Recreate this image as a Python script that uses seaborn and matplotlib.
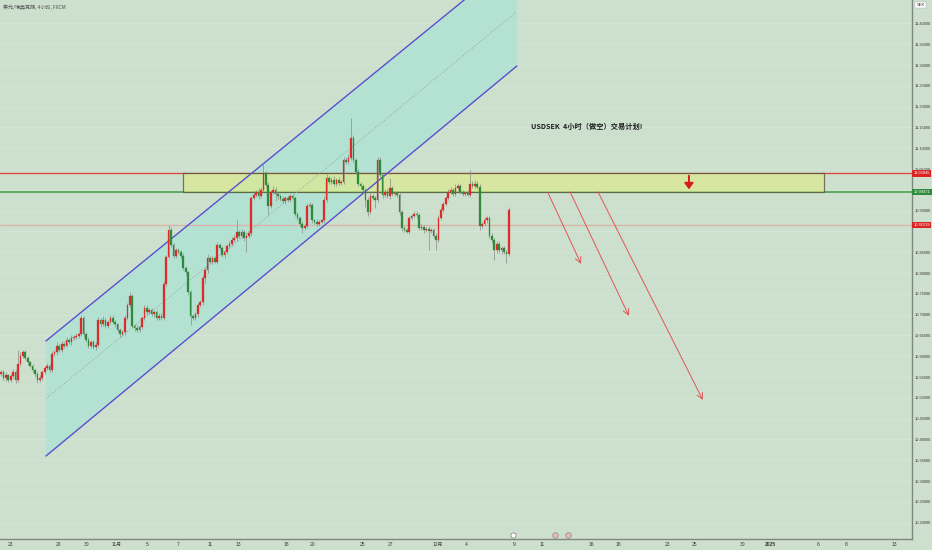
import numpy as np
import pandas as pd
import matplotlib
matplotlib.use("Agg")
import matplotlib.pyplot as plt
import seaborn as sns
from matplotlib.patches import Rectangle, Polygon

# ---------------- data ----------------
open0 = 10.558
closes = [
    10.562, 10.548, 10.555, 10.543, 10.552, 10.562, 10.543, 10.581, 10.601, 10.610,
    10.596, 10.586, 10.577, 10.567, 10.557, 10.543, 10.548, 10.562, 10.572, 10.577,
    10.567, 10.605, 10.610, 10.625, 10.615, 10.629, 10.625, 10.639, 10.634, 10.644,
    10.646, 10.649, 10.653, 10.692, 10.653, 10.639, 10.625, 10.634, 10.622, 10.627,
    10.687, 10.677, 10.687, 10.673, 10.682, 10.692, 10.682, 10.677, 10.663, 10.653,
    10.658, 10.692, 10.723, 10.745, 10.673, 10.668, 10.663, 10.670, 10.692, 10.716,
    10.706, 10.711, 10.701, 10.706, 10.692, 10.697, 10.692, 10.774, 10.839, 10.903,
    10.867, 10.841, 10.855, 10.851, 10.841, 10.812, 10.802, 10.754, 10.697, 10.692,
    10.701, 10.723, 10.730, 10.788, 10.807, 10.836, 10.827, 10.836, 10.827, 10.867,
    10.860, 10.843, 10.851, 10.865, 10.870, 10.879, 10.884, 10.899, 10.889, 10.899,
    10.884, 10.889, 10.896, 10.980, 10.988, 10.995, 10.985, 11.000, 11.040, 11.012,
    10.961, 10.995, 11.000, 10.990, 10.985, 10.978, 10.973, 10.980, 10.976, 10.985,
    10.980, 10.942, 10.932, 10.918, 10.908, 10.913, 10.961, 10.964, 10.927, 10.923,
    10.918, 10.923, 10.927, 10.976, 11.028, 11.019, 11.024, 11.014, 11.024, 11.016,
    11.019, 11.072, 11.067, 11.077, 11.125, 11.072, 11.043, 11.014, 11.009, 11.000,
    10.976, 10.947, 10.985, 10.980, 10.976, 11.072, 11.036, 10.988, 10.995, 10.985,
    11.004, 10.990, 10.992, 10.988, 10.947, 10.908, 10.903, 10.899, 10.932, 10.937,
    10.942, 10.939, 10.908, 10.911, 10.903, 10.906, 10.901, 10.903, 10.889, 10.879,
    10.932, 10.952, 10.966, 10.980, 10.995, 11.000, 10.990, 11.004, 11.009, 10.995,
    10.990, 10.992, 10.988, 11.014, 11.009, 11.014, 11.007, 10.913, 10.918, 10.927,
    10.932, 10.889, 10.879, 10.855, 10.870, 10.855, 10.860, 10.851, 10.846, 10.952,
]
# upper / lower wick lengths in units of 0.001
upper_wick = [
    5, 4, 6, 3, 5, 8, 4, 34, 8, 6,
    5, 4, 3, 4, 3, 5, 6, 4, 5, 6,
    4, 8, 6, 10, 5, 8, 6, 7, 5, 6,
    4, 6, 5, 7, 4, 5, 6, 4, 5, 6,
    8, 5, 10, 6, 5, 8, 6, 5, 4, 6,
    5, 8, 6, 10, 4, 5, 6, 4, 5, 8,
    6, 5, 6, 4, 5, 6, 7, 6, 5, 12,
    8, 5, 6, 5, 4, 6, 5, 4, 6, 5,
    6, 5, 6, 8, 7, 10, 6, 5, 6, 8,
    6, 5, 4, 5, 6, 8, 7, 29, 5, 6,
    5, 6, 4, 6, 8, 5, 10, 6, 24, 5,
    6, 5, 8, 6, 5, 4, 6, 5, 4, 6,
    5, 6, 4, 5, 6, 5, 8, 6, 5, 4,
    6, 5, 4, 8, 10, 5, 6, 8, 5, 6,
    5, 8, 6, 10, 48, 6, 5, 6, 5, 6,
    5, 6, 10, 6, 5, 7, 6, 5, 8, 6,
    24, 6, 5, 6, 5, 4, 6, 5, 6, 5,
    6, 8, 5, 6, 5, 4, 6, 5, 4, 6,
    8, 6, 5, 6, 8, 6, 5, 10, 8, 6,
    5, 6, 8, 34, 8, 10, 6, 6, 5, 8,
    6, 5, 6, 5, 8, 6, 5, 6, 5, 7,
]
lower_wick = [
    6, 5, 8, 4, 6, 5, 7, 4, 5, 6,
    5, 6, 4, 5, 6, 7, 5, 6, 4, 5,
    6, 4, 5, 6, 4, 5, 6, 4, 5, 6,
    5, 4, 6, 4, 8, 6, 5, 6, 4, 8,
    5, 6, 4, 5, 6, 4, 5, 6, 5, 6,
    4, 6, 5, 4, 6, 8, 5, 6, 4, 5,
    6, 5, 4, 6, 5, 4, 6, 5, 6, 4,
    5, 6, 4, 5, 6, 5, 6, 8, 22, 6,
    5, 6, 4, 8, 12, 6, 5, 6, 4, 6,
    5, 4, 6, 5, 4, 6, 5, 6, 4, 5,
    6, 34, 5, 6, 4, 5, 6, 4, 5, 6,
    22, 5, 6, 18, 6, 5, 4, 6, 5, 6,
    4, 6, 5, 6, 12, 5, 6, 4, 6, 5,
    6, 5, 4, 6, 5, 6, 4, 5, 6, 4,
    5, 6, 4, 5, 6, 5, 6, 4, 6, 5,
    18, 10, 6, 5, 20, 6, 5, 8, 6, 5,
    6, 5, 4, 6, 8, 6, 5, 4, 6, 5,
    4, 6, 5, 4, 6, 5, 46, 5, 6, 24,
    5, 4, 6, 5, 4, 6, 5, 6, 4, 5,
    6, 5, 4, 6, 5, 4, 6, 10, 6, 5,
    6, 5, 6, 24, 8, 6, 10, 5, 22, 6,
]

date_labels = ["23", "28", "30", "11月", "5", "7", "11", "13", "18", "20", "25", "27",
               "12月", "4", "9", "11", "16", "18", "23", "25", "30", "2025", "6", "8", "13"]
date_bar_pos = [3.7, 23.5, 35.4, 47.7, 60.1, 72.8, 86.0, 97.5, 117.3, 128.4, 148.6, 160.1,
                179.8, 191.4, 211.1, 222.6, 242.8, 253.9, 274.1, 285.2, 305.3, 316.5,
                336.2, 347.7, 367.5]

price_ticks = [round(10.20 + 0.05 * k, 2) for k in range(25)]
hidden_ticks = [11.00, 10.90]   # covered by the price tags in the reference

resistance_top = 11.03945
resistance_bottom = 10.99471
mark_level = 10.91539

# channel (bar index, price)
channel_x = [18.5, 212.3]
channel_upper = [10.6366, 11.5596]
channel_lower = [10.3601, 11.2976]
channel_mid = [10.4983, 11.4286]

zone_x = [74.9, 338.7]

# planned move arrows (start bar, start price, end bar, end price)
arrow_paths = [
    (225.0, 10.994, 238.7, 10.822),
    (234.2, 10.995, 258.4, 10.697),
    (245.7, 10.995, 288.8, 10.495),
]

title_text = "USDSEK  4小时（做空）交易计划!"
header_text = "美元/瑞典克朗, 4小时, FXCM"

# ---------------- style ----------------
BG = "#cde0ce"
sns.set_theme(style="white")
plt.rcParams["font.family"] = ["Noto Sans CJK SC", "DejaVu Sans"]
plt.rcParams["axes.unicode_minus"] = False
NUMFONT = ["Liberation Sans", "DejaVu Sans"]
CJK_NUM = ["Liberation Sans", "Noto Sans CJK SC", "DejaVu Sans"]

UP = "#dd2a2a"
DOWN = "#2f8a3c"
WICK = "#868c87"

n = len(closes)
opens = [open0] + closes[:-1]
highs = [max(o, c) + u * 0.001 for o, c, u in zip(opens, closes, upper_wick)]
lows = [min(o, c) - d * 0.001 for o, c, d in zip(opens, closes, lower_wick)]
df = pd.DataFrame({"bar": np.arange(n), "open": opens, "high": highs,
                   "low": lows, "close": closes})
df["up"] = df["close"] >= df["open"]

W, H = 932, 550
fig = plt.figure(figsize=(W / 100, H / 100), dpi=100, facecolor=BG)
ax = fig.add_axes([0, 11 / H, 912 / W, 539 / H])
ax.set_facecolor(BG)

ymin, ymax = 10.1606, 11.45625
xmin, xmax = -0.41, 374.9
ax.set_xlim(xmin, xmax)
ax.set_ylim(ymin, ymax)

# grid lines
for p in price_ticks:
    ax.axhline(p, color="#d5e6d6", lw=0.7, zorder=0)

# channel fill
poly = Polygon([(channel_x[0], channel_lower[0]), (channel_x[1], channel_lower[1]),
                (channel_x[1], channel_upper[1]), (channel_x[0], channel_upper[0])],
               closed=True, facecolor="#a9e3d6", alpha=0.72, edgecolor="none", zorder=1)
ax.add_patch(poly)
ch = pd.DataFrame({"bar": channel_x * 3,
                   "price": channel_upper + channel_lower + channel_mid,
                   "line": ["upper"] * 2 + ["lower"] * 2 + ["mid"] * 2})
sns.lineplot(data=ch[ch.line == "upper"], x="bar", y="price", color="#5a4fcf", lw=1.0,
             ax=ax, zorder=3, legend=False)
sns.lineplot(data=ch[ch.line == "lower"], x="bar", y="price", color="#5a4fcf", lw=1.0,
             ax=ax, zorder=3, legend=False)
sns.lineplot(data=ch[ch.line == "mid"], x="bar", y="price", color="#8fa7a2", lw=0.6,
             ls=(0, (1.5, 2)), ax=ax, zorder=3, legend=False)

# horizontal levels
ax.axhline(resistance_top, color="#e0403a", lw=0.9, zorder=2)
ax.axhline(resistance_bottom, color="#3f9a45", lw=1.1, zorder=2)
ax.axhline(mark_level, color="#dcb3a8", lw=1.0, zorder=2)

# resistance zone
zone = Rectangle((zone_x[0], resistance_bottom), zone_x[1] - zone_x[0],
                 resistance_top - resistance_bottom, facecolor="#dbe98f", alpha=0.72,
                 edgecolor="#4b4a33", lw=0.9, zorder=2)
ax.add_patch(zone)
ax.annotate("", xy=(283.1, 11.001), xytext=(283.1, 11.034),
            arrowprops=dict(arrowstyle="-|>,head_width=0.22,head_length=0.3",
                            color="#d41f1f", lw=1.4, shrinkA=0, shrinkB=0), zorder=6)

# candles
for _, r in df.iterrows():
    col = UP if r.up else DOWN
    ax.vlines(r.bar, r.low, r.high, color=WICK, lw=0.5, zorder=4)
    bottom = min(r.open, r.close)
    height = max(abs(r.close - r.open), 0.0012)
    ax.bar(r.bar, height, bottom=bottom, width=0.68, color=col, edgecolor=col,
           lw=0.2, zorder=5)

# planned moves
for x0, y0, x1, y1 in arrow_paths:
    ax.annotate("", xy=(x1, y1), xytext=(x0, y0),
                arrowprops=dict(arrowstyle="->,head_width=0.18,head_length=0.35",
                                color="#e05555", lw=0.7, shrinkA=0, shrinkB=0), zorder=6)

ax.text(218.1, 11.1534, title_text, fontsize=5.2, fontweight="bold", color="#1e1e1e",
        ha="left", va="center", zorder=7)

# event markers near bottom
ax.scatter([210.7], [10.1702], s=14, facecolor="white", edgecolor="#777", lw=0.5, zorder=7)
ax.scatter([228.0, 233.3], [10.1702, 10.1702], s=16, facecolor="#e8b9b5",
           edgecolor="#888", lw=0.5, zorder=7)

# axes
ax.yaxis.tick_right()
ax.set_yticks(price_ticks)
ax.set_yticklabels(["" if p in hidden_ticks else f"{p:.5f}" for p in price_ticks])
ax.tick_params(axis="y", labelsize=2.9, pad=1.6, length=0, colors="#3a3a3a")
for lab in ax.get_yticklabels():
    lab.set_family(NUMFONT)
ax.set_xticks(date_bar_pos)
ax.set_xticklabels(date_labels)
ax.tick_params(axis="x", labelsize=3.6, pad=2.2, length=0, colors="#3a3a3a")
for lab in ax.get_xticklabels():
    lab.set_family(CJK_NUM)
    if lab.get_text() == "2025":
        lab.set_fontweight("bold")
ax.set_xlabel("")
ax.set_ylabel("")
for s in ["top", "left"]:
    ax.spines[s].set_visible(False)
ax.spines["right"].set_color("#7f8880")
ax.spines["right"].set_linewidth(1.0)
ax.spines["bottom"].set_color("#7f8880")
ax.spines["bottom"].set_linewidth(1.0)
ax.grid(False)

# price tags on right axis
def tag(price, text, fc, tc="white"):
    ax.text(1.0015, (price - ymin) / (ymax - ymin), text, transform=ax.transAxes,
            fontsize=2.9, color=tc, ha="left", va="center", zorder=10, family=NUMFONT,
            bbox=dict(boxstyle="square,pad=0.35", fc=fc, ec="none"), clip_on=False)

tag(resistance_top, f"{resistance_top:.5f}", "#dd2222")
tag(resistance_bottom, f"{resistance_bottom:.5f}", "#2f8a3c")
tag(mark_level, f"{mark_level:.5f}", "#dd2222")
ax.text(1.005, 0.991, "SEK", transform=ax.transAxes, fontsize=3.0, color="#333",
        ha="left", va="center", zorder=10, clip_on=False, family=NUMFONT,
        bbox=dict(boxstyle="square,pad=0.3", fc="white", ec="#aaa", lw=0.3))

fig.text(3 / W, 1 - 7 / H, header_text, fontsize=3.6, color="#505050", ha="left",
         va="center")

fig.savefig("out.png", dpi=100, facecolor=BG)
